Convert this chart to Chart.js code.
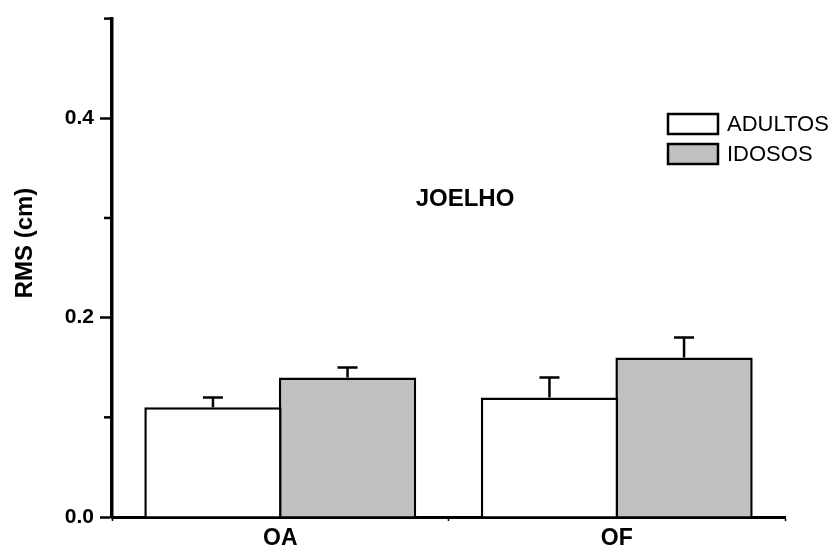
<!DOCTYPE html>
<html>
<head>
<meta charset="utf-8">
<script src="https://cdn.jsdelivr.net/npm/chart.js@4.4.1/dist/chart.umd.min.js"></script>
<style>
    html, body { margin: 0; padding: 0; background: #fff; }
    #wrap { width: 840px; height: 553px; position: relative; }
</style>
</head>
<body>
<div id="wrap"><canvas id="rmsChart" width="840" height="553"></canvas></div>
<script>
/* RMS (cm) — joelho, adultos vs idosos */

const categories = ['OA', 'OF'];
const adultos = [0.11, 0.12];
const adultosErr = [0.01, 0.02];
const idosos = [0.14, 0.16];
const idososErr = [0.01, 0.02];
const yTicksMajor = [0.0, 0.2, 0.4];

const FONT = "'Liberation Sans', Arial, Helvetica, sans-serif";

// error bars (upper only) drawn from the bar elements + y scale
const errorBars = {
    id: 'errorBars',
    afterDatasetsDraw(chart) {
        const { ctx, scales: { y } } = chart;
        ctx.save();
        ctx.strokeStyle = '#000';
        ctx.lineWidth = 2.5;
        chart.data.datasets.forEach((ds, di) => {
            const meta = chart.getDatasetMeta(di);
            meta.data.forEach((bar, i) => {
                const top = y.getPixelForValue(ds.data[i] + ds.errors[i]);
                ctx.beginPath();
                ctx.moveTo(bar.x, bar.y);
                ctx.lineTo(bar.x, top);
                ctx.moveTo(bar.x - 10, top);
                ctx.lineTo(bar.x + 10, top);
                ctx.stroke();
            });
        });
        ctx.restore();
    }
};

// minor ticks, axis title, inner title and legend
const decorations = {
    id: 'decorations',
    afterDraw(chart) {
        const { ctx, chartArea: a, scales: { y } } = chart;
        ctx.save();
        ctx.strokeStyle = '#000';
        ctx.lineWidth = 2.5;
        [0.1, 0.3, 0.5].forEach(v => {
            const py = y.getPixelForValue(v);
            ctx.beginPath();
            ctx.moveTo(a.left - 8, py);
            ctx.lineTo(a.left, py);
            ctx.stroke();
        });

        ctx.fillStyle = '#000';
        ctx.font = 'bold 24px ' + FONT;
        ctx.textAlign = 'center';
        ctx.textBaseline = 'middle';
        ctx.save();
        ctx.translate(25, 243);
        ctx.rotate(-Math.PI / 2);
        ctx.fillText('RMS (cm)', 0, 0);
        ctx.restore();

        ctx.fillText('JOELHO', 465, 199);

        ctx.font = '22px ' + FONT;
        ctx.textAlign = 'left';
        chart.data.datasets.forEach((ds, i) => {
            const top = 114 + i * 30;
            ctx.fillStyle = ds.backgroundColor;
            ctx.fillRect(668, top, 50, 20);
            ctx.lineWidth = 2.5;
            ctx.strokeRect(668, top, 50, 20);
            ctx.fillStyle = '#000';
            ctx.fillText(ds.label, 727, top + 11);
        });
        ctx.restore();
    }
};

new Chart(document.getElementById('rmsChart'), {
    type: 'bar',
    data: {
        labels: categories,
        datasets: [
            { label: 'ADULTOS', data: adultos, errors: adultosErr, backgroundColor: '#ffffff', borderColor: '#000', borderWidth: 2.5 },
            { label: 'IDOSOS', data: idosos, errors: idososErr, backgroundColor: '#c0c0c0', borderColor: '#000', borderWidth: 2.5 }
        ]
    },
    options: {
        responsive: false,
        animation: false,
        layout: { padding: { top: 15, right: 55, left: 0, bottom: 0 } },
        datasets: { bar: { categoryPercentage: 0.8, barPercentage: 1.02, inflateAmount: 0 } },
        plugins: { legend: { display: false }, tooltip: { enabled: false } },
        scales: {
            x: {
                offset: true,
                grid: { offset: true, drawOnChartArea: false, tickLength: 4, tickWidth: 1.5, tickColor: '#000' },
                border: { display: true, color: '#000', width: 3 },
                ticks: { color: '#000', padding: 4, font: { family: FONT, size: 23, weight: 'bold' } },
                afterFit: s => { s.height = 36; }
            },
            y: {
                min: 0,
                max: 0.5,
                grid: {
                    drawOnChartArea: false,
                    tickLength: 12,
                    tickWidth: 2.5,
                    tickColor: c => yTicksMajor.some(v => Math.abs(v - c.tick.value) < 1e-6) ? '#000' : 'rgba(0,0,0,0)'
                },
                border: { display: true, color: '#000', width: 3.5 },
                ticks: {
                    stepSize: 0.1,
                    padding: 6,
                    color: '#000',
                    font: { family: FONT, size: 21, weight: 'bold' },
                    callback: v => yTicksMajor.some(t => Math.abs(t - v) < 1e-6) ? v.toFixed(1) : ''
                },
                afterFit: s => { s.width = 112; }
            }
        }
    },
    plugins: [errorBars, decorations]
});
</script>
</body>
</html>
